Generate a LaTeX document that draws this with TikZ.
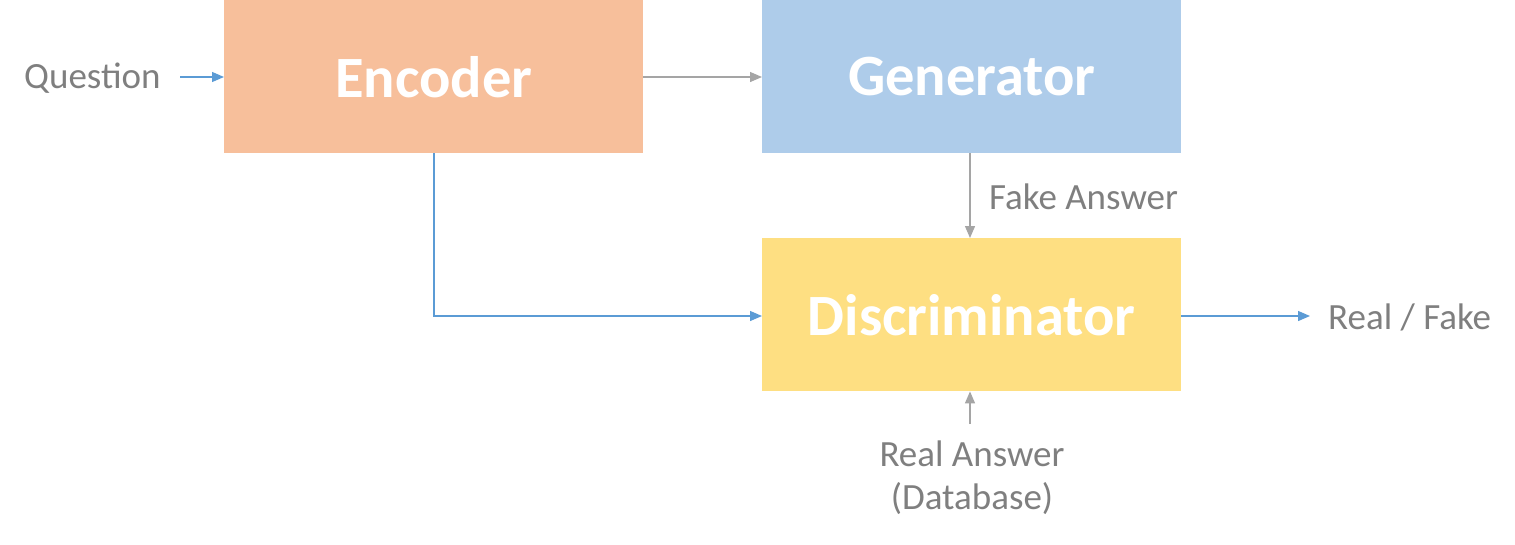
\documentclass[tikz,border=0pt]{standalone}
\usepackage{fontspec}
\setmainfont{Carlito}
\usetikzlibrary{arrows.meta}
\definecolor{encC}{HTML}{F7BF9B}
\definecolor{genC}{HTML}{AECCEA}
\definecolor{disC}{HTML}{FEDF82}
\definecolor{txtC}{HTML}{7F7F7F}
\definecolor{blueA}{HTML}{5B9BD5}
\definecolor{grayA}{HTML}{A5A5A5}
\tikzset{
  box/.style={draw=none, minimum width=419pt, minimum height=153pt, inner sep=0pt, anchor=north west,
    text=white, font=\fontsize{58.5}{64}\selectfont\bfseries},
  lbl/.style={text=txtC, font=\fontsize{37}{43}\selectfont, inner sep=0pt},
  barrow/.style={draw=blueA, line width=1.3pt, -{Triangle[length=12pt,width=10pt]}},
  garrow/.style={draw=grayA, line width=1.3pt, -{Triangle[length=12pt,width=10pt]}},
}
\begin{document}
\begin{tikzpicture}[x=1pt,y=-1pt]
\useasboundingbox (0,0) rectangle (1515,544);
\node[box, fill=encC] (enc) at (224,0) {Encoder};
\node[box, fill=genC] (gen) at (762,0) {Generator};
\node[box, fill=disC] (dis) at (762,238) {Discriminator};
\node[lbl, anchor=west] (q) at (24,78) {Question};
\coordinate (qs) at (180,77);
\draw[barrow] (qs) -- (enc.west |- qs);
\draw[garrow] (enc.east |- qs) -- (gen.west |- qs);
\coordinate (encb) at (434,153);
\coordinate (dm) at (762,316);
\draw[barrow] (encb) |- (dm);
\coordinate (gb) at (970,153);
\draw[garrow] (gb) -- (gb |- dis.north);
\node[lbl, anchor=west] (fa) at (989,197) {Fake Answer};
\node[lbl, anchor=west] (rf) at (1328,317) {Real / Fake};
\coordinate (rfe) at (1310,316);
\draw[barrow] (dis.east |- rfe) -- (rfe);
\coordinate (rs) at (970,424);
\draw[garrow] (rs) -- (rs |- dis.south);
\node[lbl, align=center] (ra) at (972,478) {Real Answer\\(Database)};
\end{tikzpicture}
\end{document}
